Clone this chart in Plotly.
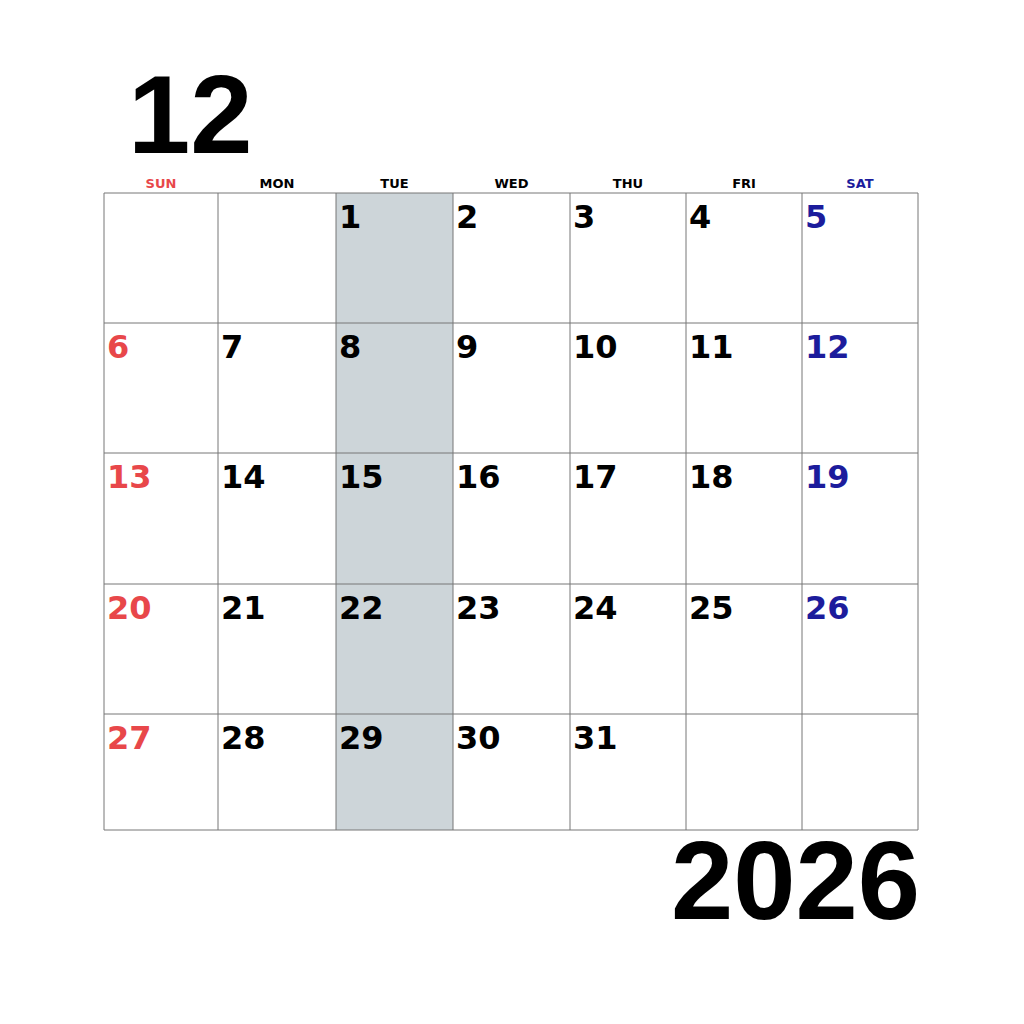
import plotly.graph_objects as go

month_label = "12"
year_label = "2026"
weekdays = ["SUN", "MON", "TUE", "WED", "THU", "FRI", "SAT"]
weekday_colors = ["#e8474a", "#000000", "#000000", "#000000", "#000000", "#000000", "#1c1c9c"]
col_edges = [104, 218, 336, 453, 570, 686, 802, 918]
row_edges = [193, 323, 453, 584, 714, 830]
first_weekday = 2  # Tuesday
days_in_month = 31
highlight_col = 2

fig = go.Figure()
shapes = []
shapes.append(dict(type="rect", x0=col_edges[highlight_col], x1=col_edges[highlight_col + 1],
                   y0=row_edges[0], y1=row_edges[-1], fillcolor="#cdd5d9", line_width=0, layer="below"))
for x in col_edges:
    shapes.append(dict(type="line", x0=x, x1=x, y0=row_edges[0], y1=row_edges[-1], line=dict(color="#777", width=1)))
for y in row_edges:
    shapes.append(dict(type="line", x0=col_edges[0], x1=col_edges[-1], y0=y, y1=y, line=dict(color="#777", width=1)))

xs, ys, texts, colors = [], [], [], []
for d in range(1, days_in_month + 1):
    idx = first_weekday + d - 1
    c, r = idx % 7, idx // 7
    xs.append(col_edges[c] + 3)
    ys.append(row_edges[r] + 27)
    texts.append(str(d))
    colors.append(weekday_colors[c])
fig.add_trace(go.Scatter(x=xs, y=ys, text=texts, mode="text", textposition="middle right",
                         textfont=dict(family="DejaVu Sans", size=32, color=colors, weight="bold"),
                         hoverinfo="skip", showlegend=False))

hx = [(col_edges[i] + col_edges[i + 1]) / 2 for i in range(7)]
fig.add_trace(go.Scatter(x=hx, y=[185] * 7, text=weekdays, mode="text",
                         textfont=dict(family="DejaVu Sans", size=13, color=weekday_colors, weight="bold"),
                         hoverinfo="skip", showlegend=False))

fig.add_annotation(x=126, y=114, text="<b>" + month_label + "</b>", showarrow=False, xanchor="left",
                   font=dict(family="Liberation Sans", size=112, color="#000"))
fig.add_annotation(x=922, y=880, text="<b>" + year_label + "</b>", showarrow=False, xanchor="right",
                   font=dict(family="Liberation Sans", size=112, color="#000"))

fig.update_layout(width=1024, height=1024, margin=dict(l=0, r=0, t=0, b=0),
                  plot_bgcolor="white", paper_bgcolor="white", shapes=shapes,
                  xaxis=dict(range=[8, 1032], visible=False),
                  yaxis=dict(range=[1032, 8], visible=False))
fig.write_html("out.html")
